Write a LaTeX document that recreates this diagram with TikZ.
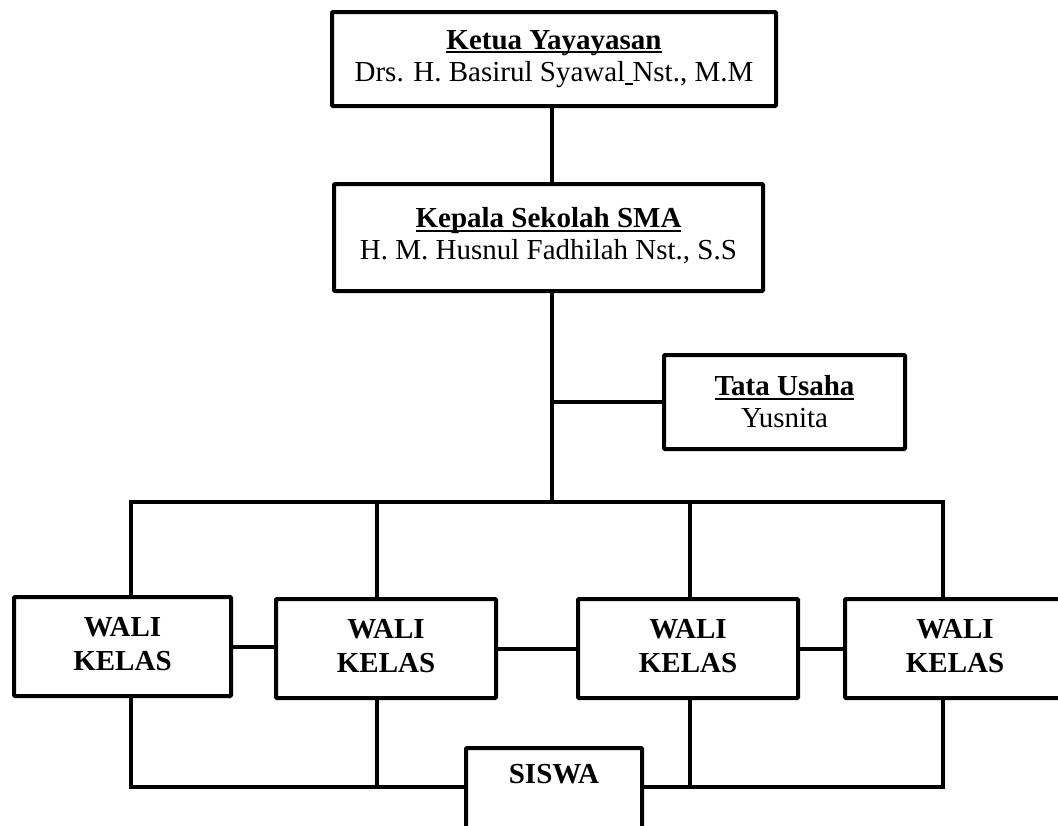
\documentclass[tikz,border=0pt]{standalone}
\usepackage{fontspec}
\setmainfont{Liberation Serif}
\newcommand\myul[1]{\setbox0\hbox{#1}\rlap{\rule[-4pt]{\wd0}{2pt}}\box0}
\begin{document}
\begin{tikzpicture}[x=1pt,y=-1pt,
  base/.style={draw, line width=4pt, rounded corners=1pt, fill=white, inner sep=0pt},
  box/.style={base, align=center, font=\fontsize{29}{32}\selectfont},
  wali/.style={base, align=center, font=\bfseries\fontsize{29}{34}\selectfont, minimum width=220, minimum height=99},
  link/.style={line width=4pt, line join=miter}]
\useasboundingbox (0,0) rectangle (1058,825);
\clip (0,0) rectangle (1058,825);

\node[box, minimum width=444, minimum height=94] (ketua) at (554,59)
  {\myul{\bfseries Ketua Yayayasan}\\Drs. H. Basirul Syawal\myul{\ }Nst., M.M};
\node[box, minimum width=429, minimum height=107] (kepsek) at (548.5,237.5)
  {\myul{\bfseries Kepala Sekolah SMA}\\H. M. Husnul Fadhilah Nst., S.S\\[-24pt]\mbox{}};
\node[box, minimum width=241, minimum height=94] (tata) at (784.5,402)
  {\myul{\bfseries Tata Usaha}\\Yusnita};

\node[wali, minimum width=217] (w1) at (122.5,646.5) {WALI\\KELAS\\[-28pt]\mbox{}};
\node[wali] (w2) at (386,648.5) {WALI\\KELAS\\[-28pt]\mbox{}};
\node[wali] (w3) at (688,648.5) {WALI\\KELAS\\[-28pt]\mbox{}};
\node[wali] (w4) at (955,648.5) {WALI\\KELAS\\[-28pt]\mbox{}};

\node[base, anchor=north, minimum width=176, inner ysep=8pt, text height=27pt, text depth=100pt,
  font=\bfseries\fontsize{29}{32}\selectfont] (siswa) at (554,746) {SISWA};

\coordinate (bm) at (552,502);
\coordinate (b1) at (131,502);
\coordinate (b2) at (377,502);
\coordinate (b3) at (690,502);
\coordinate (b4) at (943,502);
\coordinate (s1) at (131,787);
\coordinate (s4) at (943,787);

\draw[link] (ketua.south -| bm) -- (kepsek.north -| bm);
\draw[link] (kepsek.south -| bm) -- (bm);
\draw[link] (tata.west -| bm) -- (tata.west);
\draw[link] (w1.north -| b1) -- (b1) -- (b4) -- (w4.north -| b4);
\draw[link] (b2) -- (w2.north -| b2);
\draw[link] (b3) -- (w3.north -| b3);

\draw[link] (w1.east) -- (w1.east -| w2.west);
\draw[link] (w2.east) -- (w3.west);
\draw[link] (w3.east) -- (w4.west);

\draw[link] (w1.south -| s1) -- (s1) -- (s1 -| siswa.west);
\draw[link] (w2.south -| b2) -- (s1 -| b2);
\draw[link] (s4 -| siswa.east) -- (s4) -- (w4.south -| s4);
\draw[link] (w3.south -| b3) -- (s4 -| b3);
\end{tikzpicture}
\end{document}
